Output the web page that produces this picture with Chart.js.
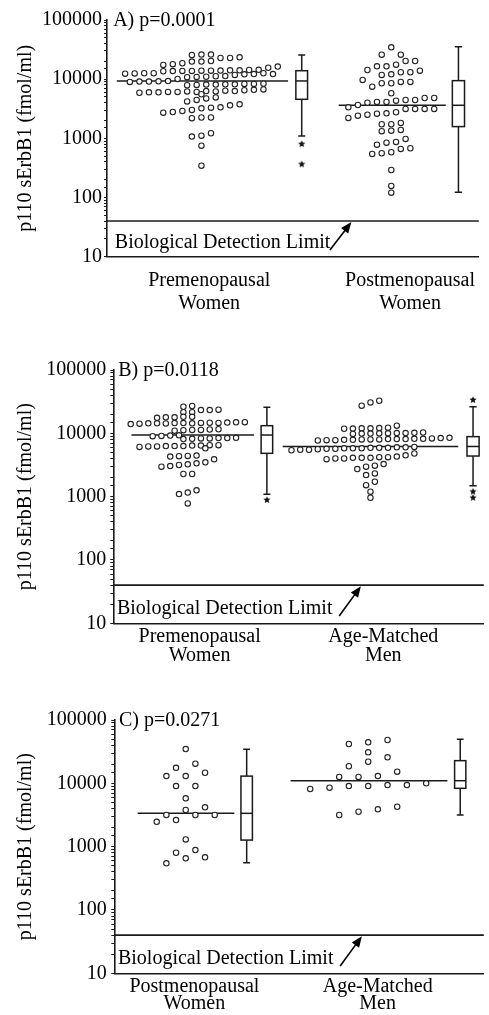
<!DOCTYPE html>
<html><head><meta charset="utf-8">
<script src="https://cdn.jsdelivr.net/npm/chart.js@4.4.1/dist/chart.umd.min.js"></script>
<style>
html,body{margin:0;padding:0;background:#fff;}
body{width:489px;height:1015px;position:relative;overflow:hidden;}
canvas{position:absolute;left:0;}
</style></head><body>
<canvas id="cA" width="489" height="325" style="top:0px"></canvas>
<canvas id="cB" width="489" height="340" style="top:330px"></canvas>
<canvas id="cC" width="489" height="345" style="top:670px"></canvas>
<script>
// ---------------- DATA ----------------
const yTitle = 'p110 sErbB1 (fmol/ml)';
const panelTitles = ['A) p=0.0001', 'B) p=0.0118', 'C) p=0.0271'];
const detectionLabel = 'Biological Detection Limit';
const detectionLimit = 40;
const yMin = 10, yMax = 100000;
const catsA = [['Premenopausal','Women'], ['Postmenopausal','Women']];
const catsB = [['Premenopausal','Women'], ['Age-Matched','Men']];
const catsC = [['Postmenopausal','Women'], ['Age-Matched','Men']];

// Panel A: premenopausal women (values, swarm columns)
const A_pre_vals = [25600,26000,26000, 22800,22800,23400, 19800,19800,20300, 17400,17900,18600, 15600,16300,
  13600,13700,13800,13800,13900,13900,14000,14100,14100,14300,14400, 12400,12500,12600,12600,
  10100,10800,10900,11000,11200,11300,11800,12100,12200,12600,12200, 9000,9100,9100,9200,9300,
  7900,8000,8100,8100,8200,8200,8300,8300,8400,
  5900,6000,6000,6100,6100,6200,6100,6300,6200,6400,6300,6500,6600,6700, 5560,
  4200,4460,4720,4910, 2720,2790,2900,3020,3220,3300,3350,3620,3760, 2190,2250,2250, 1070,1110,1220, 753, 346];
const A_pre_cols = [-1,0,1, 2,3,4, -1,0,1, -4,-3,-2, 7,8,
  -4,-3,-2,-1,0,1,2,3,4,5,6, -8,-7,-6,-5,
  -2.5,-1.5,-0.5,0.5,1.5,2.5,3.5,4.5,5.5,6.5,7.5, -7.5,-6.5,-5.5,-4.5,-3.5,
  -1.5,-0.5,0.5,1.5,2.5,3.5,4.5,5.5,6.5,
  -6.5,-5.5,-4.5,-3.5,-2.5,-1.5,-0.5,0.5,1.5,2.5,3.5,4.5,5.5,6.5, 0,
  -1.5,-0.5,0.5,1.5, -4,-3,-2,-1,0,1,2,3,4, -1,0,1, -1,0,1, 0, 0];
const A_pre_box = [1100, 4570, 9330, 13900, 25600];   // min, q1, median, q3, max
const A_pre_out = [800, 365];

// Panel A: postmenopausal women
const A_post_vals = [34600, 25900,25900, 20300,20300, 14300, 16500,16500,17600, 13900, 11800,12100,13100,13100,
  9700, 7470, 8530,8530,8970,8970, 5780,
  3350,3660,4010,4120,4120,4340,4450,4450,4810,4810,
  2210,2420,2510,2610,2650,2760,3140,3140,3140,3140,
  1730,1730,1820, 1320,1350,1390, 783,846,869,977, 545,560,582,662,680, 292, 157,121];
const A_post_cols = [0, -1,1, 1.5,2.5, -2.5, -1.5,-0.5,0.5, 3, -1,0,1,2,
  -3, -2, -1,0,1,2, 0,
  -4.5,-3.5,-2.5,-1.5,-0.5,0.5,1.5,2.5,3.5,4.5,
  -4.5,-3.5,-2.5,-1.5,-0.5,0.5,1.5,2.5,3.5,4.5,
  -1,0,1, -1,0,1, -1.5,-0.5,0.5,1.5, -2,-1,0,1,2, 0, 0,0];
const A_post_box = [123, 1580, 3620, 9440, 35400];
const A_post_out = [];

// Panel B: premenopausal women
const B_pre_vals = [26300,27000, 23300,23300,23600, 21500,21500, 17600,17900,17900,18200,18200,
  14000,14200,14400,14400,14300,14500,14500,14400,14600,14700,14600,14800,14900,15000,
  11000,11200,11300,11300,11500,11600, 9000,9100,9200,9300, 8100,8200,8300,8300,8400,8400,8500,
  6100,6200,6200,6300,6300,6300,6400,6400,6500,6500, 5790, 4300,4350,4400,4450, 3880,
  2970,3040,3160,3240,3360,3480, 2280,2280, 1100,1160,1260, 783];
const B_pre_cols = [-0.5,0.5, 1.5,2.5,3.5, -0.5,0.5, -3.5,-2.5,-1.5,-0.5,0.5,
  -6.5,-5.5,-4.5,-3.5,-2.5,-1.5,-0.5,0.5,1.5,2.5,3.5,4.5,5.5,6.5,
  -1.5,-0.5,0.5,1.5,2.5,3.5, -4,-3,-2,-1, -0.5,0.5,1.5,2.5,3.5,4.5,5.5,
  -5.5,-4.5,-3.5,-2.5,-1.5,-0.5,0.5,1.5,2.5,3.5, 2, -2,-1,0,1, 3,
  -3,-2,-1,0,1,2, -0.5,0.5, -1,0,1, 0];
const B_pre_box = [1090, 4830, 9400, 13200, 25700];
const B_pre_out = [884];

// Panel B: age-matched men
const B_men_vals = [27300,30800,32700, 11800,11900,12000,12000,12100,12300,13200,
  9800,9900,9900,10000,10000,10100,10100,10200,10300,
  7700,7800,7800,7900,7900,8000,8000,8000,8100,8100,8100,8200,8200,8300,8400,8500,
  5400,5500,5500,5600,5700,5700,5800,5800,5800,5900,5900,5900,6000,6000,6100,
  3900,4000,4000,4100,4100,4100,4200,4200,4300,4500,4800, 2730,2970,3080,3270,
  2190,2330,1720,1520,1200,960];
const B_men_cols = [-1,0,1, -3,-2,-1,0,1,2,3,
  -2,-1,0,1,2,3,4,5,6,
  -6,-5,-4,-3,-2,-1,0,1,2,3,4,5,6,7,8,9,
  -9,-8,-7,-6,-5,-4,-3,-2,-1,0,1,2,3,4,5,
  -5,-4,-3,-2,-1,0,1,2,3,4,5, -1.5,-0.5,0.5,1.5,
  -0.5,0.5,0.5,-0.5,0,0];
const B_men_box = [1490, 4380, 6200, 8860, 26300];
const B_men_out = [33600, 1200, 960];

// Panel C: postmenopausal women
const C_post_vals = [34800, 20400, 17600, 14700, 13000,13000, 9060,9060, 5790, 4180, 3790, 3160,3160,3160,
  2470, 2630, 1300, 801, 884, 653, 678, 545];
const C_post_cols = [0, 1, -1, 2, -2,0, -1,1, 0, 2, 0, -2,1,3, -3, -1, 0, -1, 1, 0, 2, -2];
const C_post_box = [557, 1270, 3360, 13000, 34400];
const C_post_out = [];

// Panel C: age-matched men
const C_men_vals = [41800, 44400, 48300, 30900, 25700, 21900, 18600, 15300, 12600,12600,13000,
  8130, 8530, 9060,9060,9400,9400,10000, 3160,3560,3880,4270];
const C_men_cols = [-2, 0, 2, 0, 2, 0, -2, 3, -3,-1,1, -6, -4, -2,0,2,4,6, -3,-1,1,3];
const C_men_box = [3160, 8340, 11000, 22800, 49500];
const C_men_out = [];

// ---------------- LAYOUT / STYLE ----------------
const SERIF = "'Liberation Serif', 'DejaVu Serif', serif";
const INK = '#1a1a1a';

const panels = [
  { id:'cA', title:panelTitles[0], axisLeft:107, top:20, xAxisH:68.3, xMax:382, step:9.8,
    tickPad:13, catLH:1.15, yPad:2, titleX:6.3, textX:8, cats:catsA, catX:[105, 311.3],
    groups:[
      {vals:A_pre_vals, cols:A_pre_cols, box:A_pre_box, out:A_pre_out, center:97, line:[10,186], boxX:200, boxW:12},
      {vals:A_post_vals, cols:A_post_cols, box:A_post_box, out:A_post_out, center:292, line:[238,348], boxX:361, boxW:12.5}
    ]},
  { id:'cB', title:panelTitles[1], axisLeft:113.3, top:40, xAxisH:46.7, xMax:375.7, step:8.9,
    tickPad:3.7, catLH:0.95, yPad:4, titleX:5, textX:3.7, cats:catsB, catX:[87.5, 273.7],
    groups:[
      {vals:B_pre_vals, cols:B_pre_cols, box:B_pre_box, out:B_pre_out, center:75.5, line:[18.4,142.7], boxX:155.7, boxW:11.7},
      {vals:B_men_vals, cols:B_men_cols, box:B_men_box, out:B_men_out, center:260.7, line:[171.7,349.7], boxX:364.7, boxW:12.3}
    ]},
  { id:'cC', title:panelTitles[2], axisLeft:114.3, top:50, xAxisH:41.7, xMax:374.7, step:9.8,
    tickPad:4.2, catLH:0.875, yPad:4.5, titleX:4.7, textX:3.7, cats:catsC, catX:[81.2, 267],
    groups:[
      {vals:C_post_vals, cols:C_post_cols, box:C_post_box, out:C_post_out, center:72.4, line:[23.7,121.7], boxX:134.2, boxW:11.6},
      {vals:C_men_vals, cols:C_men_cols, box:C_men_box, out:C_men_out, center:257.4, line:[178.7,337.7], boxX:350.7, boxW:11.4}
    ]}
];

function makeStar(r){
  const s = Math.ceil(r*2+2);
  const c = document.createElement('canvas'); c.width = s; c.height = s;
  const g = c.getContext('2d'); g.fillStyle = '#111'; g.beginPath();
  for (let k=0;k<10;k++){ const rad = k%2 ? r*0.45 : r; const a = -Math.PI/2 + k*Math.PI/5;
    g.lineTo(s/2 + rad*Math.cos(a), s/2 + rad*Math.sin(a)); }
  g.closePath(); g.fill(); return c;
}
const starImg = makeStar(3.8);

function isPow10(v){ const l = Math.log10(v); return Math.abs(l - Math.round(l)) < 1e-9; }

function overlayPlugin(P){
  return {
    id:'overlay'+P.id,
    afterDatasetsDraw(chart){
      const {ctx, scales:{x, y}} = chart;
      ctx.save();
      ctx.strokeStyle = INK; ctx.lineWidth = 1.5;
      P.groups.forEach(g => {
        const [mn,q1,md,q3,mx] = g.box.map(v => y.getPixelForValue(v));
        const xl = x.getPixelForValue(g.boxX - g.boxW/2), xr = x.getPixelForValue(g.boxX + g.boxW/2);
        const xc = x.getPixelForValue(g.boxX);
        const cl = x.getPixelForValue(g.boxX - g.boxW*0.3), cr = x.getPixelForValue(g.boxX + g.boxW*0.3);
        ctx.beginPath();
        ctx.moveTo(xc, q3); ctx.lineTo(xc, mx);
        ctx.moveTo(xc, q1); ctx.lineTo(xc, mn);
        ctx.moveTo(cl, mx); ctx.lineTo(cr, mx);
        ctx.moveTo(cl, mn); ctx.lineTo(cr, mn);
        ctx.stroke();
        ctx.fillStyle = '#fff'; ctx.fillRect(xl, q3, xr-xl, q1-q3);
        ctx.strokeRect(xl, q3, xr-xl, q1-q3);
        ctx.beginPath(); ctx.moveTo(xl, md); ctx.lineTo(xr, md); ctx.stroke();
      });
      ctx.fillStyle = '#000';
      ctx.font = '20px ' + SERIF;
      ctx.textBaseline = 'middle'; ctx.textAlign = 'left';
      ctx.fillText(P.title, x.getPixelForValue(P.titleX), y.getPixelForValue(yMax) + 1);
      ctx.fillText(detectionLabel, x.getPixelForValue(P.textX), y.getPixelForValue(17));
      const tx = x.getPixelForValue(229), ty = y.getPixelForValue(13);
      const hx = x.getPixelForValue(251), hy = y.getPixelForValue(detectionLimit) + 1;
      const ang = Math.atan2(hy-ty, hx-tx);
      ctx.strokeStyle = '#000'; ctx.lineWidth = 1.6;
      ctx.beginPath(); ctx.moveTo(tx, ty); ctx.lineTo(hx - 8*Math.cos(ang), hy - 8*Math.sin(ang)); ctx.stroke();
      ctx.beginPath(); ctx.moveTo(hx, hy);
      ctx.lineTo(hx - 11*Math.cos(ang) + 4.5*Math.sin(ang), hy - 11*Math.sin(ang) - 4.5*Math.cos(ang));
      ctx.lineTo(hx - 11*Math.cos(ang) - 4.5*Math.sin(ang), hy - 11*Math.sin(ang) + 4.5*Math.cos(ang));
      ctx.closePath(); ctx.fillStyle = '#000'; ctx.fill();
      ctx.restore();
    }
  };
}

function buildPanel(P){
  const datasets = [];
  datasets.push({ data:[{x:0,y:detectionLimit},{x:P.xMax,y:detectionLimit}], showLine:true,
    borderColor:INK, borderWidth:1.6, pointRadius:0, order:2 });
  P.groups.forEach(g => {
    datasets.push({ data: g.vals.map((v,i) => ({x: g.center + g.cols[i]*P.step, y: v})), showLine:false,
      pointRadius:2.7, pointBorderWidth:1.1, pointBorderColor:'#222', pointBackgroundColor:'#fff', order:0 });
    datasets.push({ data:[{x:g.line[0], y:g.box[2]},{x:g.line[1], y:g.box[2]}], showLine:true,
      borderColor:INK, borderWidth:1.5, pointRadius:0, order:1 });
    if (g.out.length) datasets.push({ data: g.out.map(v => ({x:g.boxX, y:v})), showLine:false,
      pointStyle: starImg, pointRadius:4, order:0 });
  });
  new Chart(document.getElementById(P.id), {
    type:'scatter',
    data:{ datasets },
    options:{
      responsive:false, maintainAspectRatio:false, animation:false, devicePixelRatio:1,
      layout:{ padding:{ top:P.top, left:0, right:0, bottom:0 } },
      plugins:{ legend:{display:false}, tooltip:{enabled:false} },
      scales:{
        x:{ type:'linear', min:0, max:P.xMax, position:'bottom',
          afterFit: s => { s.height = P.xAxisH; },
          afterBuildTicks: s => { s.ticks = P.catX.map(v => ({value:v})); },
          border:{ display:true, color:INK, width:1.6 },
          grid:{ display:true, drawOnChartArea:false, drawTicks:false },
          ticks:{ autoSkip:false, maxRotation:0, minRotation:0, padding:P.tickPad, color:'#000',
            font:{ size:20, family:SERIF, lineHeight:P.catLH },
            callback:(v,i) => P.cats[i] }
        },
        y:{ type:'logarithmic', min:yMin, max:yMax, position:'left',
          afterFit: s => { s.width = P.axisLeft; },
          border:{ display:true, color:INK, width:1.6 },
          grid:{ display:true, drawOnChartArea:false, drawTicks:true, tickLength:3, tickColor:INK, tickWidth:1 },
          ticks:{ autoSkip:false, padding:P.yPad, color:'#000', font:{ size:20, family:SERIF },
            callback: v => isPow10(v) ? String(Math.round(v)) : '' },
          title:{ display:true, text:yTitle, color:'#000', font:{ size:20, family:SERIF }, padding:{ top:14, bottom:0 } }
        }
      }
    },
    plugins:[ overlayPlugin(P) ]
  });
}
panels.forEach(buildPanel);
</script></body></html>
